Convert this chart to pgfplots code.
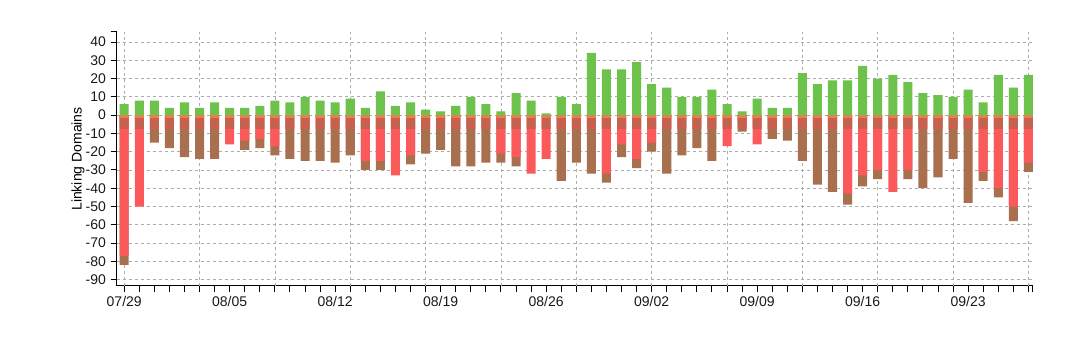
\documentclass[border=0pt]{standalone}
\usepackage{pgfplots}
\usepackage{pgfplotstable}
\pgfplotsset{compat=1.18}
\usepackage{fontspec}
\setmainfont{Liberation Sans}
\definecolor{cgreen}{HTML}{6CC24A}
\definecolor{cred}{HTML}{FC5A5A}
\definecolor{cbrown}{HTML}{A8704E}
\definecolor{cmid}{HTML}{C8604F}
\definecolor{corange}{HTML}{E8804A}
\pgfplotstableread{
d p n b r m o
0 6 -82 -82 -77 -7.5 -1.5
1 8 -50 nan -50 -7.5 -1.5
2 8 -15 -15 nan -7.5 -1.5
3 4 -18 -18 nan -7.5 -1.5
4 7 -23 -23 nan -7.5 -1.5
5 4 -24 -24 nan -7.5 -1.5
6 7 -24 -24 nan -7.5 -1.5
7 4 -16 nan -16 -7.5 -1.5
8 4 -19 -19 -14 -7.5 -1.5
9 5 -18 -18 -13 -7.5 -1.5
10 8 -22 -22 -17 -7.5 -1.5
11 7 -24 -24 nan -7.5 -1.5
12 10 -25 -25 nan -7.5 -1.5
13 8 -25 -25 nan -7.5 -1.5
14 7 -26 -26 nan -7.5 -1.5
15 9 -22 -22 nan -7.5 -1.5
16 4 -30 -30 -25 -7.5 -1.5
17 13 -30 -30 -25 -7.5 -1.5
18 5 -33 nan -33 -7.5 -1.5
19 7 -27 -27 -22 -7.5 -1.5
20 3 -21 -21 nan -7.5 -1.5
21 2 -19 -19 nan -7.5 -1.5
22 5 -28 -28 nan -7.5 -1.5
23 10 -28 -28 nan -7.5 -1.5
24 6 -26 -26 nan -7.5 -1.5
25 2 -26 -26 -21 -7.5 -1.5
26 12 -28 -28 -23 -7.5 -1.5
27 8 -32 nan -32 -7.5 -1.5
28 1 -24 nan -24 -7.5 -1.5
29 10 -36 -36 nan -7.5 -1.5
30 6 -26 -26 nan -7.5 -1.5
31 34 -32 -32 nan -7.5 -1.5
32 25 -37 -37 -32 -7.5 -1.5
33 25 -23 -23 -16 -7.5 -1.5
34 29 -29 -29 -24 -7.5 -1.5
35 17 -20 -20 -15 -7.5 -1.5
36 15 -32 -32 nan -7.5 -1.5
37 10 -22 -22 nan -7.5 -1.5
38 10 -18 -18 nan -7.5 -1.5
39 14 -25 -25 nan -7.5 -1.5
40 6 -17 nan -17 -7.5 -1.5
41 2 -9 -9 -4 -7.5 -1.5
42 9 -16 nan -16 -7.5 -1.5
43 4 -13 -13 nan -7.5 -1.5
44 4 -14 -14 nan -7.5 -1.5
45 23 -25 -25 nan -7.5 -1.5
46 17 -38 -38 nan -7.5 -1.5
47 19 -42 -42 nan -7.5 -1.5
48 19 -49 -49 -43 -7.5 -1.5
49 27 -39 -39 -33 -7.5 -1.5
50 20 -35 -35 -30 -7.5 -1.5
51 22 -42 nan -42 -7.5 -1.5
52 18 -35 -35 -30 -7.5 -1.5
53 12 -40 -40 nan -7.5 -1.5
54 11 -34 -34 nan -7.5 -1.5
55 10 -24 -24 nan -7.5 -1.5
56 14 -48 -48 nan -7.5 -1.5
57 7 -36 -36 -31 -7.5 -1.5
58 22 -45 -45 -40 -7.5 -1.5
59 15 -58 -58 -50 -7.5 -1.5
60 22 -31 -31 -26 -7.5 -1.5
}\data
\begin{document}
\begin{tikzpicture}
\path[use as bounding box] (0pt,0pt) rectangle (815.25pt,253.5pt);
\begin{axis}[
  at={(87.5pt,39pt)}, anchor=south west,
  scale only axis, width=687.2pt, height=190.5pt,
  xmin=-0.5, xmax=60.3, ymin=-93.5, ymax=45.5,
  axis lines*=left,
  axis line style={black, line width=0.75pt},
  tick align=outside,
  major tick length=4.5pt, minor tick length=4.5pt,
  every tick/.style={black, line width=0.75pt},
  ytick={-90,-80,...,40},
  minor ytick={45.5},
  ymajorgrids=true,
  xtick={0,7,...,56},
  xticklabels={07/29,08/05,08/12,08/19,08/26,09/02,09/09,09/16,09/23},
  minor xtick={0,...,60,60.3},
  extra x ticks={0,5,...,60},
  extra x tick labels={},
  extra x tick style={grid=major, major tick length=0pt},
  major grid style={gray!65, line width=0.55pt, dash pattern=on 2.5pt off 2pt},
  tick label style={font=\fontsize{10.5}{12}\selectfont, text=black!90},
  /pgf/number format/assume math mode=true,
  ylabel={Linking Domains},
  ylabel style={font=\fontsize{10.5}{12}\selectfont, yshift=-6pt},
  clip=false,
]
\addplot[ybar, bar width=0.6, bar shift=0pt, fill=cbrown, draw=none] table[x=d, y=b] {\data};
\addplot[ybar, bar width=0.6, bar shift=0pt, fill=cred, draw=none] table[x=d, y=r] {\data};
\addplot[ybar, bar width=0.6, bar shift=0pt, fill=cmid, draw=none] table[x=d, y=m] {\data};
\addplot[ybar, bar width=0.6, bar shift=0pt, fill=corange, draw=none] table[x=d, y=o] {\data};
\addplot[ybar, bar width=0.6, bar shift=0pt, fill=cgreen, draw=none] table[x=d, y=p] {\data};
\end{axis}
\end{tikzpicture}
\end{document}
